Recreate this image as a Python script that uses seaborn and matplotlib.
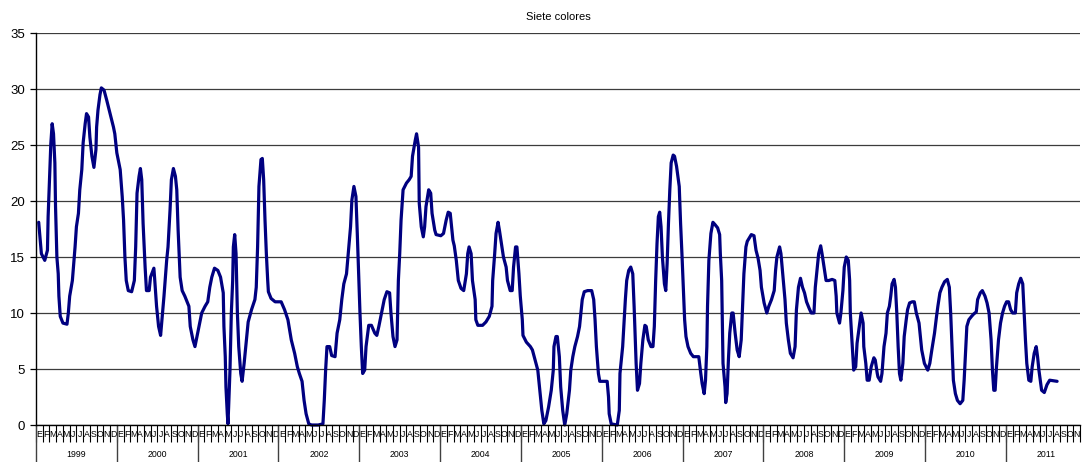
import numpy as np
import pandas as pd
import matplotlib
matplotlib.use("Agg")
import matplotlib.pyplot as plt
import seaborn as sns

title = "Siete colores"
years = [str(y) for y in range(1999, 2012)]
month_letters = ["E", "F", "M", "A", "M", "J", "J", "A", "S", "O", "N", "D"]
n_months = 155  # Jan 1999 .. Nov 2011

# time in months since start of Jan 1999 (fractional)
months = [
    0.4, 0.8, 1.3, 1.7, 1.8, 2.0, 2.2, 2.4, 2.6, 2.8, 2.9, 3.1, 3.3, 3.4, 3.6, 4.0, 4.6, 4.8, 5.0, 5.4,
    5.8, 6.0, 6.3, 6.5, 6.8, 7.0, 7.3, 7.5, 7.8, 8.0, 8.3, 8.6, 8.9, 9.0, 9.2, 9.5, 9.7, 10.1, 10.5, 11.0,
    11.5, 11.7, 12.0, 12.5, 12.8, 13.0, 13.2, 13.4, 13.7, 14.2, 14.6, 14.8, 15.0, 15.3, 15.5, 15.7, 15.9, 16.2, 16.4, 16.8,
    17.0, 17.5, 17.6, 17.9, 18.2, 18.5, 18.7, 19.0, 19.4, 19.6, 19.9, 20.1, 20.4, 20.7, 20.9, 21.1, 21.4, 21.7, 22.1, 22.7,
    22.9, 23.3, 23.6, 23.9, 24.2, 24.6, 25.1, 25.5, 25.8, 26.1, 26.5, 27.0, 27.4, 27.8, 27.9, 28.1, 28.2, 28.4, 28.5, 28.6,
    28.8, 29.0, 29.2, 29.3, 29.5, 29.7, 29.9, 30.1, 30.4, 30.6, 30.9, 31.3, 31.5, 32.0, 32.5, 32.7, 32.9, 33.1, 33.4, 33.6,
    33.8, 34.0, 34.2, 34.4, 34.5, 34.9, 35.5, 36.4, 36.9, 37.4, 37.9, 38.4, 38.8, 39.1, 39.5, 39.8, 40.1, 40.5, 40.9, 41.9,
    42.6, 42.8, 43.0, 43.2, 43.6, 43.9, 44.4, 44.7, 45.1, 45.4, 45.7, 46.1, 46.4, 46.7, 46.9, 47.2, 47.5, 47.7, 47.9, 48.1,
    48.3, 48.5, 48.8, 49.0, 49.4, 49.8, 50.3, 50.6, 50.9, 51.3, 51.7, 52.1, 52.5, 52.7, 53.0, 53.3, 53.6, 53.8, 54.0, 54.2,
    54.5, 55.0, 55.4, 55.7, 55.9, 56.3, 56.5, 56.8, 56.9, 57.2, 57.5, 57.7, 57.9, 58.3, 58.6, 58.8, 59.2, 59.4, 60.1, 60.5,
    60.9, 61.2, 61.5, 61.7, 61.9, 62.1, 62.4, 62.7, 63.1, 63.5, 63.9, 64.1, 64.3, 64.6, 64.8, 65.2, 65.3, 65.6, 66.3, 66.8,
    67.3, 67.7, 67.8, 68.1, 68.3, 68.6, 68.8, 69.1, 69.4, 69.8, 70.0, 70.4, 70.7, 70.9, 71.2, 71.4, 71.7, 71.9, 72.2, 72.3,
    72.8, 73.4, 73.7, 74.1, 74.5, 74.8, 75.1, 75.4, 75.7, 76.1, 76.5, 76.8, 76.9, 77.2, 77.4, 77.7, 77.9, 78.2, 78.5, 78.8,
    79.2, 79.4, 79.7, 80.0, 80.4, 80.7, 80.9, 81.1, 81.4, 81.9, 82.5, 82.8, 83.0, 83.2, 83.5, 83.7, 84.4, 84.8, 85.0, 85.1,
    85.4, 86.3, 86.6, 86.7, 87.1, 87.3, 87.5, 87.7, 88.0, 88.3, 88.6, 88.8, 89.1, 89.3, 89.6, 89.8, 90.1, 90.4, 90.6, 90.9,
    91.3, 91.6, 91.8, 92.0, 92.2, 92.4, 92.6, 92.8, 93.0, 93.3, 93.5, 93.7, 93.9, 94.1, 94.3, 94.6, 94.8, 95.1, 95.5, 95.7,
    95.9, 96.1, 96.3, 96.5, 96.8, 97.2, 97.6, 98.4, 98.7, 98.9, 99.2, 99.4, 99.6, 99.7, 99.9, 100.2, 100.5, 100.8, 101.2, 101.5,
    101.6, 101.8, 101.9, 102.0, 102.3, 102.4, 102.6, 102.8, 103.0, 103.3, 103.5, 103.8, 104.1, 104.4, 104.7, 104.9, 105.1, 105.4, 105.6, 105.9,
    106.2, 106.6, 106.9, 107.2, 107.5, 107.7, 108.1, 108.5, 108.8, 109.2, 109.6, 109.8, 110.0, 110.4, 110.6, 110.9, 111.2, 111.4, 111.7, 112.0,
    112.4, 112.7, 112.9, 113.2, 113.5, 113.8, 114.1, 114.4, 114.8, 115.1, 115.5, 115.7, 116.0, 116.2, 116.5, 116.7, 117.0, 117.3, 117.7, 118.2,
    118.6, 118.8, 118.9, 119.3, 119.5, 119.8, 120.0, 120.3, 120.6, 120.8, 120.9, 121.2, 121.4, 121.7, 121.9, 122.3, 122.5, 122.8, 122.9, 123.2,
    123.4, 123.7, 124.0, 124.4, 124.6, 124.9, 125.0, 125.4, 125.6, 125.9, 126.2, 126.4, 126.7, 126.9, 127.1, 127.4, 127.6, 127.8, 128.0, 128.2,
    128.4, 128.7, 128.9, 129.2, 129.4, 129.7, 130.1, 130.4, 130.7, 131.1, 131.3, 131.5, 131.9, 132.4, 132.7, 133.0, 133.4, 133.7, 133.9, 134.2,
    134.5, 134.9, 135.3, 135.6, 135.8, 136.0, 136.2, 136.5, 136.8, 137.2, 137.6, 137.8, 138.0, 138.2, 138.5, 138.9, 139.2, 139.6, 139.8, 140.2,
    140.5, 140.9, 141.2, 141.5, 141.8, 142.0, 142.2, 142.4, 142.6, 142.9, 143.2, 143.5, 143.8, 144.1, 144.4, 144.7, 145.0, 145.4, 145.6, 145.9,
    146.2, 146.5, 146.7, 146.9, 147.1, 147.4, 147.7, 147.9, 148.2, 148.5, 148.7, 148.9, 149.1, 149.3, 149.7, 150.1, 150.5, 151.1, 151.6,
]
values = [
    18.1, 15.3, 14.7, 15.6, 18.6, 21.9, 25.1, 26.9, 26.0, 23.4, 19.5, 15.0, 13.5, 11.5, 9.7, 9.1, 9.0, 10.0, 11.5, 12.9,
    15.9, 17.7, 18.9, 21.0, 22.8, 25.2, 26.9, 27.8, 27.5, 25.7, 24.0, 23.0, 24.6, 26.6, 28.1, 29.5, 30.1, 29.9, 29.0, 27.8,
    26.6, 26.0, 24.3, 22.8, 20.4, 18.3, 15.0, 12.9, 12.0, 11.9, 12.9, 15.9, 20.7, 22.2, 22.9, 21.9, 18.0, 14.1, 12.0, 12.0,
    13.2, 14.0, 13.2, 10.6, 8.8, 8.0, 9.4, 11.5, 14.7, 15.9, 19.2, 21.9, 22.9, 22.2, 21.0, 17.4, 13.2, 12.0, 11.5, 10.6,
    8.8, 7.6, 7.0, 7.9, 8.8, 10.0, 10.6, 11.0, 12.3, 13.2, 14.0, 13.8, 13.2, 11.8, 8.8, 6.1, 3.4, 1.0, 0.1, 1.6,
    4.9, 10.0, 12.9, 15.9, 17.0, 15.3, 10.0, 7.0, 4.6, 3.9, 5.5, 8.0, 9.2, 10.3, 11.2, 12.3, 15.9, 21.3, 23.7, 23.8,
    21.9, 18.3, 15.3, 12.9, 11.9, 11.3, 11.0, 11.0, 10.3, 9.4, 7.6, 6.4, 5.2, 4.6, 3.9, 2.2, 1.0, 0.1, 0.0, 0.0,
    0.1, 2.2, 4.9, 7.0, 7.0, 6.2, 6.1, 8.2, 9.4, 11.2, 12.6, 13.5, 15.6, 17.7, 20.1, 21.3, 20.4, 17.1, 13.5, 10.0,
    7.0, 4.6, 4.9, 7.0, 8.9, 8.9, 8.2, 8.0, 8.8, 10.0, 11.2, 11.9, 11.8, 10.0, 7.9, 7.0, 7.6, 12.9, 15.3, 18.3,
    21.0, 21.6, 21.9, 22.2, 24.0, 25.4, 26.0, 24.8, 19.8, 17.7, 16.8, 17.7, 19.5, 21.0, 20.7, 18.9, 17.4, 17.0, 16.9, 17.1,
    18.3, 19.0, 18.9, 17.7, 16.5, 16.0, 14.7, 12.9, 12.2, 12.0, 13.5, 15.3, 15.9, 15.3, 12.9, 11.2, 9.4, 8.9, 8.9, 9.2,
    9.7, 10.6, 12.9, 15.3, 17.1, 18.1, 17.4, 16.2, 15.0, 14.1, 12.9, 12.0, 12.0, 14.1, 15.9, 15.9, 13.5, 11.5, 9.4, 8.0,
    7.4, 7.0, 6.7, 5.8, 4.9, 3.1, 1.3, 0.1, 0.4, 1.6, 3.1, 4.9, 7.0, 7.9, 7.9, 6.1, 3.4, 1.3, 0.0, 1.0,
    3.1, 4.9, 6.1, 7.0, 7.9, 8.8, 10.0, 11.2, 11.9, 12.0, 12.0, 11.2, 9.4, 7.0, 4.6, 3.9, 3.9, 3.9, 2.5, 1.0,
    0.1, 0.0, 1.3, 4.6, 7.0, 9.1, 11.2, 12.9, 13.8, 14.1, 13.5, 10.6, 5.5, 3.1, 3.7, 5.5, 7.6, 8.9, 8.8, 7.6,
    7.0, 7.0, 8.8, 12.9, 16.2, 18.6, 19.0, 17.7, 15.0, 12.6, 12.0, 14.4, 18.0, 21.0, 23.4, 24.1, 24.0, 23.1, 21.3, 18.0,
    15.3, 12.3, 9.4, 7.9, 7.0, 6.4, 6.1, 6.1, 4.6, 3.7, 2.8, 4.0, 7.0, 10.6, 14.7, 17.1, 18.1, 17.9, 17.6, 17.0,
    15.3, 12.9, 9.4, 5.5, 3.4, 2.0, 2.8, 5.8, 8.2, 10.0, 10.0, 8.2, 6.7, 6.1, 7.6, 10.6, 13.5, 15.9, 16.4, 16.7,
    17.0, 16.9, 15.6, 14.9, 13.8, 12.3, 10.9, 10.0, 10.6, 11.2, 12.0, 13.8, 15.0, 15.9, 15.3, 13.2, 11.2, 9.1, 7.6, 6.4,
    6.0, 7.0, 10.3, 12.3, 13.1, 12.3, 11.8, 11.0, 10.4, 10.0, 10.0, 12.3, 14.1, 15.3, 16.0, 15.3, 14.1, 12.9, 12.9, 13.0,
    12.9, 11.5, 10.0, 9.1, 10.0, 12.0, 14.1, 15.0, 14.7, 12.9, 10.0, 7.0, 4.9, 5.2, 7.3, 9.1, 10.0, 9.1, 7.0, 5.5,
    4.0, 4.0, 5.2, 6.0, 5.8, 4.6, 4.3, 3.9, 4.6, 7.0, 8.2, 10.0, 10.6, 11.5, 12.6, 13.0, 12.3, 10.0, 7.0, 4.6,
    4.0, 5.5, 7.9, 9.4, 10.3, 10.9, 11.0, 11.0, 10.0, 9.1, 7.9, 6.7, 5.5, 4.9, 5.5, 6.7, 8.2, 9.7, 10.6, 11.8,
    12.3, 12.8, 13.0, 12.3, 10.0, 7.0, 4.0, 2.8, 2.2, 1.9, 2.2, 4.0, 6.4, 8.8, 9.4, 9.7, 9.9, 10.1, 11.2, 11.8,
    12.0, 11.5, 10.9, 10.0, 7.6, 4.9, 3.1, 3.1, 5.2, 7.6, 9.1, 10.0, 10.6, 11.0, 11.0, 10.3, 10.0, 10.0, 11.8, 12.6,
    13.1, 12.6, 10.0, 7.6, 5.5, 4.0, 3.9, 5.2, 6.4, 7.0, 6.1, 4.9, 4.0, 3.1, 2.9, 3.6, 4.0, 3.95, 3.9,
]

sns.set_style("white")
plt.rcParams["font.family"] = ["Liberation Sans", "DejaVu Sans"]

W, H = 1083, 462
fig = plt.figure(figsize=(W / 100, H / 100), dpi=100)
left, right, top, bottom = 36, 1080, 33, 425
ax = fig.add_axes([left / W, 1 - bottom / H, (right - left) / W, (bottom - top) / H])

df = pd.DataFrame({"mes": months, "valor": values})
sns.lineplot(data=df, x="mes", y="valor", ax=ax, color="#000080", lw=2.3,
             estimator=None, solid_joinstyle="round", solid_capstyle="round", clip_on=False)

ax.set_xlim(0, n_months)
ax.set_ylim(0, 35)
ax.set_xlabel("")
ax.set_ylabel("")

# y axis
ax.set_yticks(range(0, 36, 5))
ax.yaxis.grid(True, color="#3c3c3c", lw=0.9)
ax.xaxis.grid(False)
ax.set_axisbelow(True)
ax.tick_params(axis="y", left=True, length=4, width=0.9, color="black",
               direction="out", pad=4, labelsize=9.5, labelcolor="black")

# x axis: month boundary ticks (major), month letters (minor)
ax.set_xticks(np.arange(0, n_months + 1))
ax.set_xticklabels([])
ax.set_xticks(np.arange(n_months) + 0.5, minor=True)
ax.set_xticklabels([month_letters[i % 12] for i in range(n_months)], minor=True)
ax.tick_params(axis="x", which="major", bottom=True, length=12, width=0.8,
               color="black", direction="out")
ax.tick_params(axis="x", which="minor", bottom=True, length=0, pad=3.5,
               labelsize=6.3, labelcolor="black")

# year dividers and labels
for i, yr in enumerate(years):
    ax.axvline(12 * i, ymin=-0.1, ymax=0, clip_on=False, color="#404040", lw=1.0)
    ax.annotate(yr, xy=(12 * i + 6, 0), xycoords=("data", "axes fraction"),
                xytext=(0, -21.5), textcoords="offset points",
                ha="center", va="center", fontsize=6.3, color="black")

for s in ["top", "right"]:
    ax.spines[s].set_visible(False)
for s in ["left", "bottom"]:
    ax.spines[s].set_visible(True)
    ax.spines[s].set_color("black")
    ax.spines[s].set_linewidth(1.0)

ax.set_title(title, fontsize=8, pad=9, color="black")

fig.savefig("out.png", dpi=100)
